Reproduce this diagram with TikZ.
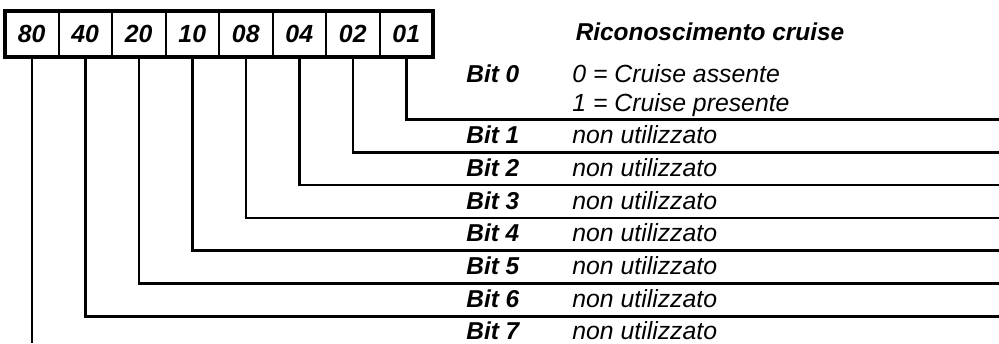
\documentclass[tikz,border=0pt]{standalone}
\usepackage{fontspec}
\setmainfont{Liberation Sans}
\usetikzlibrary{positioning}

\tikzset{
	cella/.style={draw, line width=1pt, minimum width=26.75pt, minimum height=23pt, inner sep=0pt, outer sep=0pt, font=\bfseries\itshape\fontsize{12.4}{14}\selectfont},
	bitlab/.style={anchor=base west, inner sep=0pt, font=\bfseries\itshape\fontsize{12.2}{14}\selectfont},
	desc/.style={anchor=base west, inner sep=0pt, font=\itshape\fontsize{12.4}{14}\selectfont},
	filo/.style={line width=1.25pt},
}

\begin{document}
\begin{tikzpicture}[x=0.5pt, y=-0.5pt]
	\useasboundingbox (0,0) rectangle (999,343);
	
	% byte: 80 ... 01
	\node[cella] (b7) at (31.75,34) {80};
	\foreach \v/\n/\p in {40/6/7, 20/5/6, 10/4/5, 08/3/4, 04/2/3, 02/1/2, 01/0/1}
		\node[cella, right=0pt of b\p] (b\n) {\v};
	\draw[line width=2pt] (b7.north west) rectangle (b0.south east);
	
	% collegamenti
	\foreach \k in {0,...,6} {
		\coordinate (e\k) at (999,{119.5+32.8*\k});
		\draw[filo] (b\k.south) |- (e\k);
	}
	\coordinate (fondo) at (0,343);
	\draw[filo] (b7.south) -- (b7.south |- fondo);
	
	% testi
	\node[bitlab, anchor=base] (titolo) at (710,40) {Riconoscimento cruise};
	\node[bitlab] (t0) at (466,82) {Bit 0};
	\node[desc] (d0a) at (572,82) {0 = Cruise assente};
	\node[desc] (d0b) at (572,111) {1 = Cruise presente};
	\foreach \k in {1,...,7} {
		\node[bitlab] (t\k) at (466,{111+32.7*\k}) {Bit \k};
		\node[desc] (d\k) at (572,{111+32.7*\k}) {non utilizzato};
	}
\end{tikzpicture}
\end{document}
